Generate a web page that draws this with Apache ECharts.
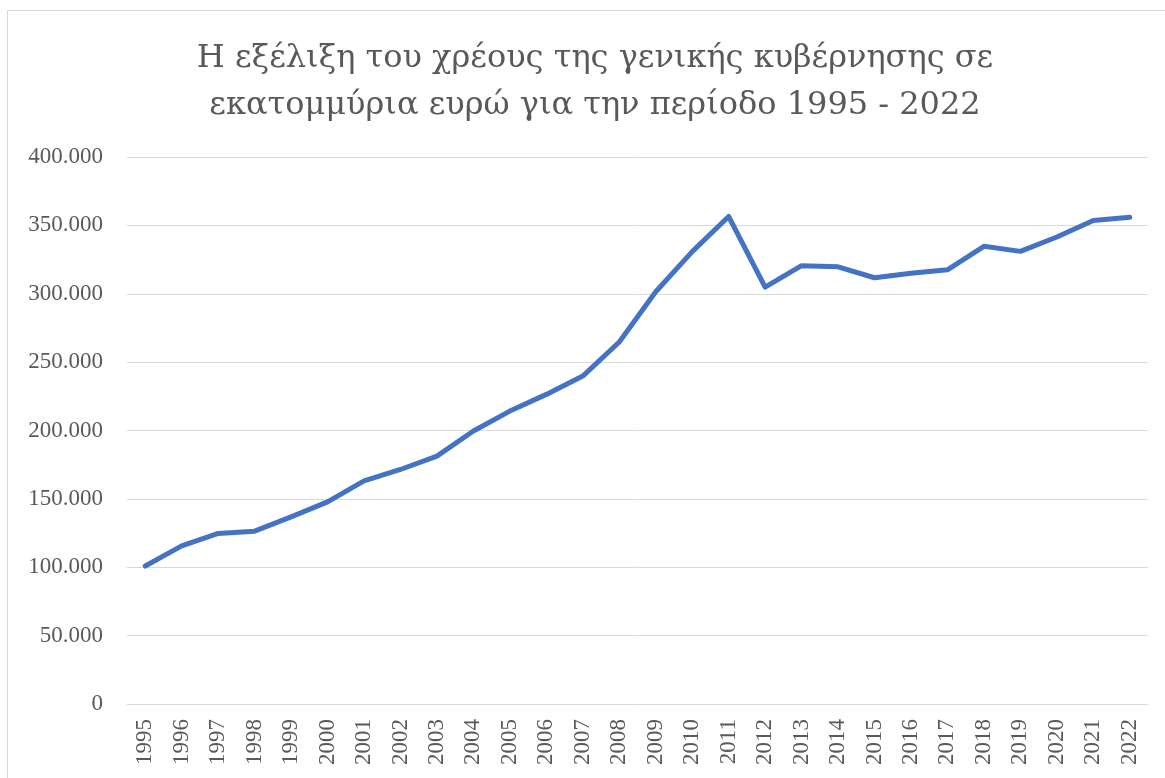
<!DOCTYPE html>
<html>
<head>
<meta charset="utf-8">
<script src="https://cdn.jsdelivr.net/npm/echarts@6/dist/echarts.min.js"></script>
<style>
html,body{margin:0;padding:0;background:#fff;}
#frame{position:absolute;left:7px;top:10px;width:1200px;height:800px;border-left:1px solid #d9d9d9;border-top:1px solid #d9d9d9;}
#chart{position:absolute;left:0;top:0;width:1165px;height:778px;}
</style>
</head>
<body>
<div id="frame"></div>
<div id="chart"></div>
<script>
const titleLines = ['Η εξέλιξη του χρέους της γενικής κυβέρνησης σε', 'εκατομμύρια ευρώ για την περίοδο 1995 - 2022'];
const years = ['1995','1996','1997','1998','1999','2000','2001','2002','2003','2004','2005','2006','2007','2008','2009','2010','2011','2012','2013','2014','2015','2016','2017','2018','2019','2020','2021','2022'];
const debt = [100900,115600,124700,126400,136800,147800,163200,171500,181300,199600,214200,226400,239800,264700,301500,330800,356500,304800,320500,319700,311700,315000,317500,334700,331000,341500,353500,356000];

const FONT = '"Liberation Serif", "DejaVu Serif", serif';
const TITLE_FONT = '"DejaVu Serif", serif';
const chart = echarts.init(document.getElementById('chart'), null, {renderer:'canvas'});
chart.setOption({
  animation:false,
  backgroundColor:'transparent',
  title:{
    text: titleLines.join('\n'),
    left: 590, top: 30,
    textAlign:'center',
    textStyle:{fontFamily:TITLE_FONT, fontSize:32, fontWeight:'normal', color:'#595959', lineHeight:47}
  },
  grid:{left:127, right:17, top:157, bottom:74, containLabel:false},
  xAxis:{
    type:'category', data:years, boundaryGap:true,
    axisLine:{show:true, lineStyle:{color:'#d9d9d9', width:1}},
    axisTick:{show:false},
    axisLabel:{interval:0, rotate:90, margin:15, fontFamily:FONT, fontSize:23, color:'#595959'}
  },
  yAxis:{
    type:'value', min:0, max:400000, interval:50000,
    axisLine:{show:false}, axisTick:{show:false},
    splitLine:{lineStyle:{color:'#d9d9d9', width:1}},
    axisLabel:{margin:24, fontFamily:FONT, fontSize:23, color:'#595959',
      formatter: v => v === 0 ? '0' : String(v).replace(/\B(?=(\d{3})+(?!\d))/g, '.')}
  },
  series:[{
    type:'line', data:debt, symbol:'none',
    lineStyle:{color:'#4472C4', width:5, cap:'round', join:'round'}
  }]
});
</script>
</body>
</html>
